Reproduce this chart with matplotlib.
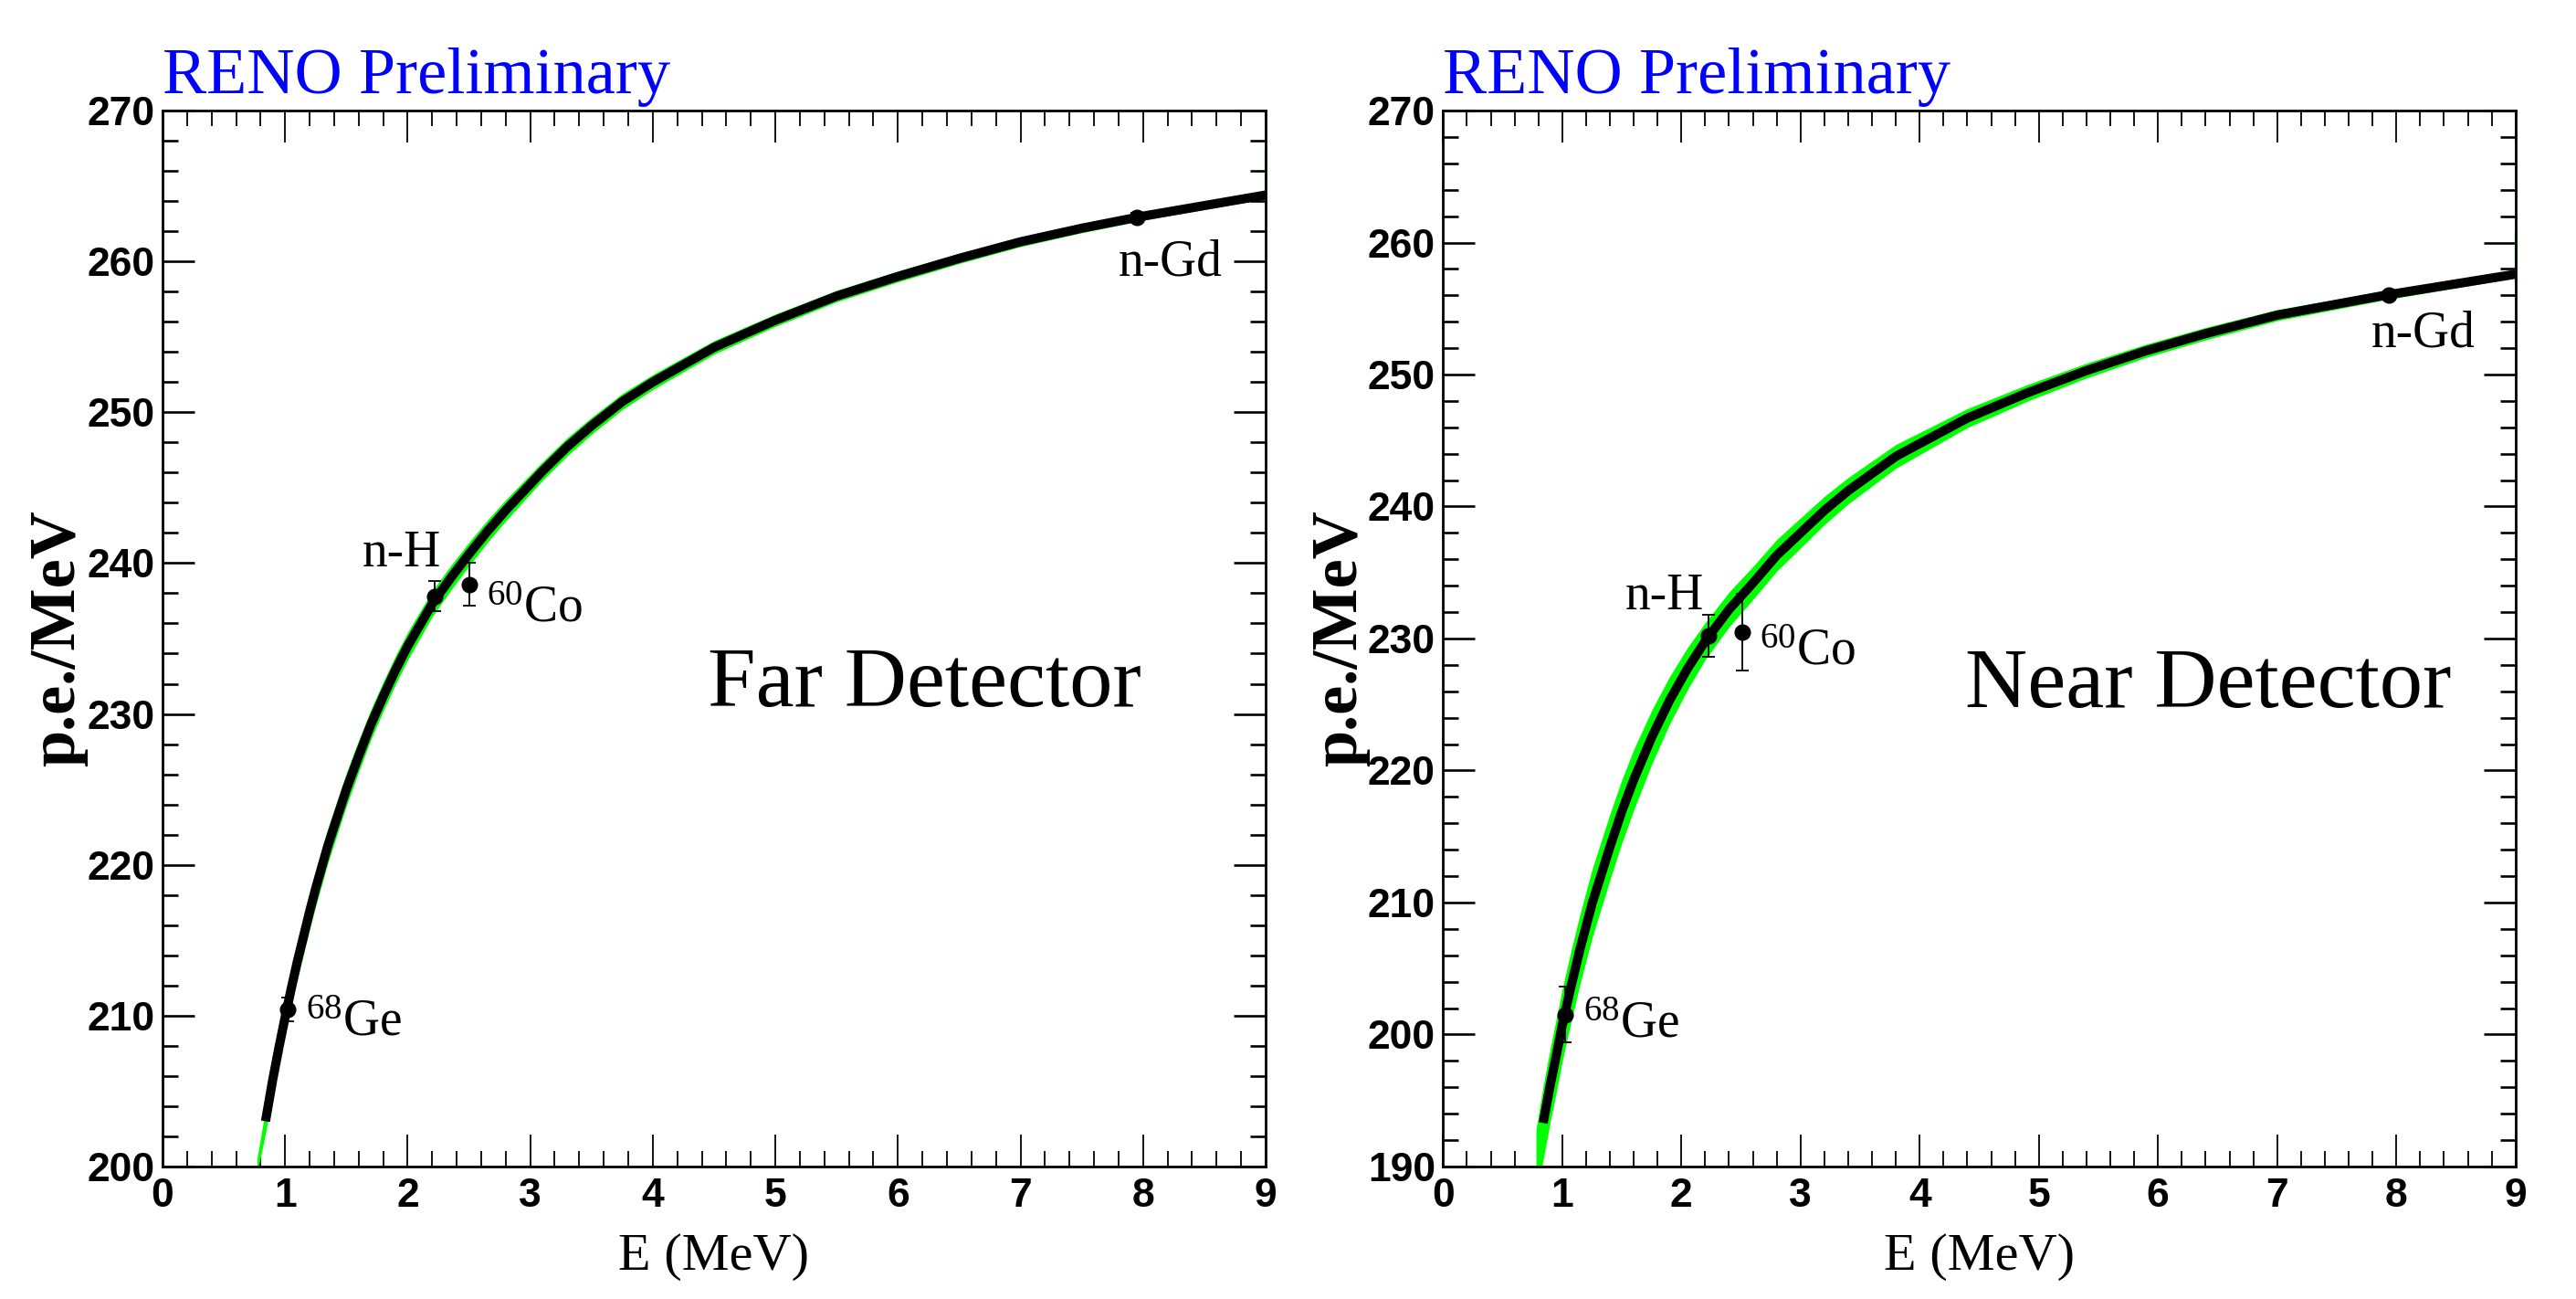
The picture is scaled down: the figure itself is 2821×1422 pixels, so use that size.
import matplotlib
matplotlib.use('Agg')
import matplotlib.pyplot as plt
from matplotlib.ticker import MultipleLocator

plt.rcParams['font.family'] = ['Liberation Sans Narrow', 'Liberation Sans']
plt.rcParams['font.weight'] = 'bold'
plt.rcParams['mathtext.default'] = 'regular'

SERIF = 'Liberation Serif'

# ── Far detector: fitted curve, error band and calibration sources ──────────
far_curve_x = [0.77, 0.84, 0.9, 0.95, 1.0, 1.05, 1.1, 1.2, 1.25, 1.35, 1.5, 1.6,
               1.7, 1.8, 1.9, 2.0, 2.2, 2.35, 2.5, 2.65, 2.8, 3.1, 3.3, 3.5, 3.75,
               4.0, 4.5, 5.0, 5.5, 6.0, 6.5, 7.0, 7.5, 8.0, 8.5, 9.0]
far_curve_y = [200.0, 203.0, 205.8, 207.9, 209.9, 211.8, 213.6, 216.9, 218.45,
               221.3, 225.0, 227.2, 229.3, 231.15, 232.9, 234.5, 237.3, 239.0,
               240.6, 242.1, 243.5, 246.1, 247.7, 249.1, 250.7, 252.0, 254.3,
               256.1, 257.7, 259.0, 260.2, 261.3, 262.2, 263.0, 263.7, 264.4]
far_band_err = [0.5, 0.8, 1.0, 1.1, 1.2, 1.2, 1.2, 1.2, 1.18, 1.15, 1.1, 1.05,
                1.0, 0.97, 0.95, 0.92, 0.85, 0.82, 0.78, 0.74, 0.7, 0.62, 0.6,
                0.56, 0.53, 0.5, 0.45, 0.41, 0.38, 0.36, 0.34, 0.32, 0.3, 0.28,
                0.26, 0.25]
far_fit_from = 0.84
far_edge_band = [263.8, 267.4]

far_src_x = [1.022, 2.223, 2.506, 7.95]
far_src_y = [210.4, 237.8, 238.6, 262.9]
far_src_err = [0.8, 1.0, 1.4, 0.3]

# ── Near detector ────────────────────────────────────────────────────────────
near_curve_x = [0.78, 0.84, 0.9, 0.95, 1.0, 1.07, 1.15, 1.25, 1.4, 1.5, 1.6, 1.75,
                1.9, 2.05, 2.2, 2.4, 2.6, 2.8, 3.0, 3.2, 3.4, 3.8, 4.4, 4.9, 5.4,
                5.9, 6.4, 7.0, 7.9, 9.0]
near_curve_y = [190.0, 193.3, 196.2, 198.4, 200.7, 203.5, 206.5, 209.9, 214.2,
                216.9, 219.3, 222.5, 225.3, 227.7, 229.8, 232.2, 234.2, 236.3,
                238.0, 239.7, 241.2, 243.8, 246.7, 248.6, 250.3, 251.8, 253.1,
                254.5, 256.0, 257.6]
near_band_err = [2.8, 2.8, 2.8, 2.8, 2.75, 2.7, 2.65, 2.6, 2.5, 2.4, 2.3, 2.05,
                 1.8, 1.6, 1.4, 1.32, 1.25, 1.2, 1.14, 1.07, 1.0, 0.9, 0.72, 0.63,
                 0.56, 0.5, 0.47, 0.42, 0.35, 0.28]
near_fit_from = 0.84
near_edge_band = [257.0, 260.7]

near_src_x = [1.028, 2.225, 2.512, 7.94]
near_src_y = [201.5, 230.2, 230.5, 256.0]
near_src_err = [2.1, 1.6, 2.9, 0.3]

# label text, anchor (x, y), alignment
src_names = ['$^{68}$Ge', 'n-H', '$^{60}$Co', 'n-Gd']
far_label_pos = [(1.17, 208.7), (2.27, 239.8), (2.645, 236.1), (7.80, 259.1)]
near_label_pos = [(1.174, 199.8), (2.186, 232.2), (2.655, 228.0), (7.79, 252.1)]
label_ha = ['left', 'right', 'left', 'left']


def draw_panel(ax, cx, cy, cerr, fit_from, edge, sx, sy, serr, lab_pos, title,
               title_pos, ymin, ylab_x):
    lo = [y - e for y, e in zip(cy, cerr)]
    hi = [y + e for y, e in zip(cy, cerr)]
    ax.fill_between(cx, lo, hi, color='#00ff00', lw=0, zorder=2)
    ax.plot([9, 9], edge, color='#00ff00', lw=1.6, zorder=2, clip_on=False)
    fx = [x for x in cx if x >= fit_from]
    fy = [y for x, y in zip(cx, cy) if x >= fit_from]
    ax.plot(fx, fy, color='black', lw=7.2, solid_capstyle='butt',
            solid_joinstyle='round', zorder=3)
    ax.errorbar(sx, sy, yerr=serr, fmt='o', color='black', ms=12,
                elinewidth=1.3, capsize=5, capthick=1.3, zorder=5)

    for name, (lx, ly), ha in zip(src_names, lab_pos, label_ha):
        ax.text(lx, ly, name, ha=ha, va='baseline', fontsize=40,
                family=SERIF, weight='normal')
    ax.text(title_pos[0], title_pos[1], title, ha='center', va='baseline',
            fontsize=68, family=SERIF, weight='normal')
    ax.text(0.0, 1.0165, 'RENO Preliminary', transform=ax.transAxes,
            ha='left', va='baseline', fontsize=52, family=SERIF,
            weight='normal', color='#0000ff')

    ax.set_xlim(0, 9)
    ax.set_ylim(ymin, 270)
    ax.xaxis.set_major_locator(MultipleLocator(1))
    ax.xaxis.set_minor_locator(MultipleLocator(0.2))
    ax.yaxis.set_major_locator(MultipleLocator(10))
    ax.yaxis.set_minor_locator(MultipleLocator(2))
    ax.tick_params(which='both', direction='in', top=True, right=True,
                   labelsize=32)
    ax.tick_params(axis='x', which='major', length=25, width=1.3, pad=9)
    ax.tick_params(axis='x', which='minor', length=12, width=1.3)
    ax.tick_params(axis='y', which='major', length=25, width=1.9, pad=6)
    ax.tick_params(axis='y', which='minor', length=12.5, width=1.9)
    for sp in ax.spines.values():
        sp.set_linewidth(2)

    ax.set_xlabel('E (MeV)', fontsize=42, family=SERIF, weight='normal')
    ax.xaxis.set_label_coords(0.5, -0.063)
    ax.xaxis.label.set_va('top')
    ax.set_ylabel('p.e./MeV', fontsize=52, family=SERIF, weight='bold')
    ax.yaxis.set_label_coords(ylab_x, 0.5)


fig = plt.figure(figsize=(28.21, 14.22), dpi=100)
ax_far = fig.add_axes([0.0631, 0.1020, 0.4282, 0.8129])
ax_near = fig.add_axes([0.5602, 0.1020, 0.4163, 0.8129])

draw_panel(ax_far, far_curve_x, far_curve_y, far_band_err, far_fit_from,
           far_edge_band, far_src_x, far_src_y, far_src_err, far_label_pos,
           'Far Detector', (6.22, 230.5), 200, -0.068)
draw_panel(ax_near, near_curve_x, near_curve_y, near_band_err, near_fit_from,
           near_edge_band, near_src_x, near_src_y, near_src_err, near_label_pos,
           'Near Detector', (6.42, 224.8), 190, -0.068)

fig.savefig('out.png', dpi=100)
